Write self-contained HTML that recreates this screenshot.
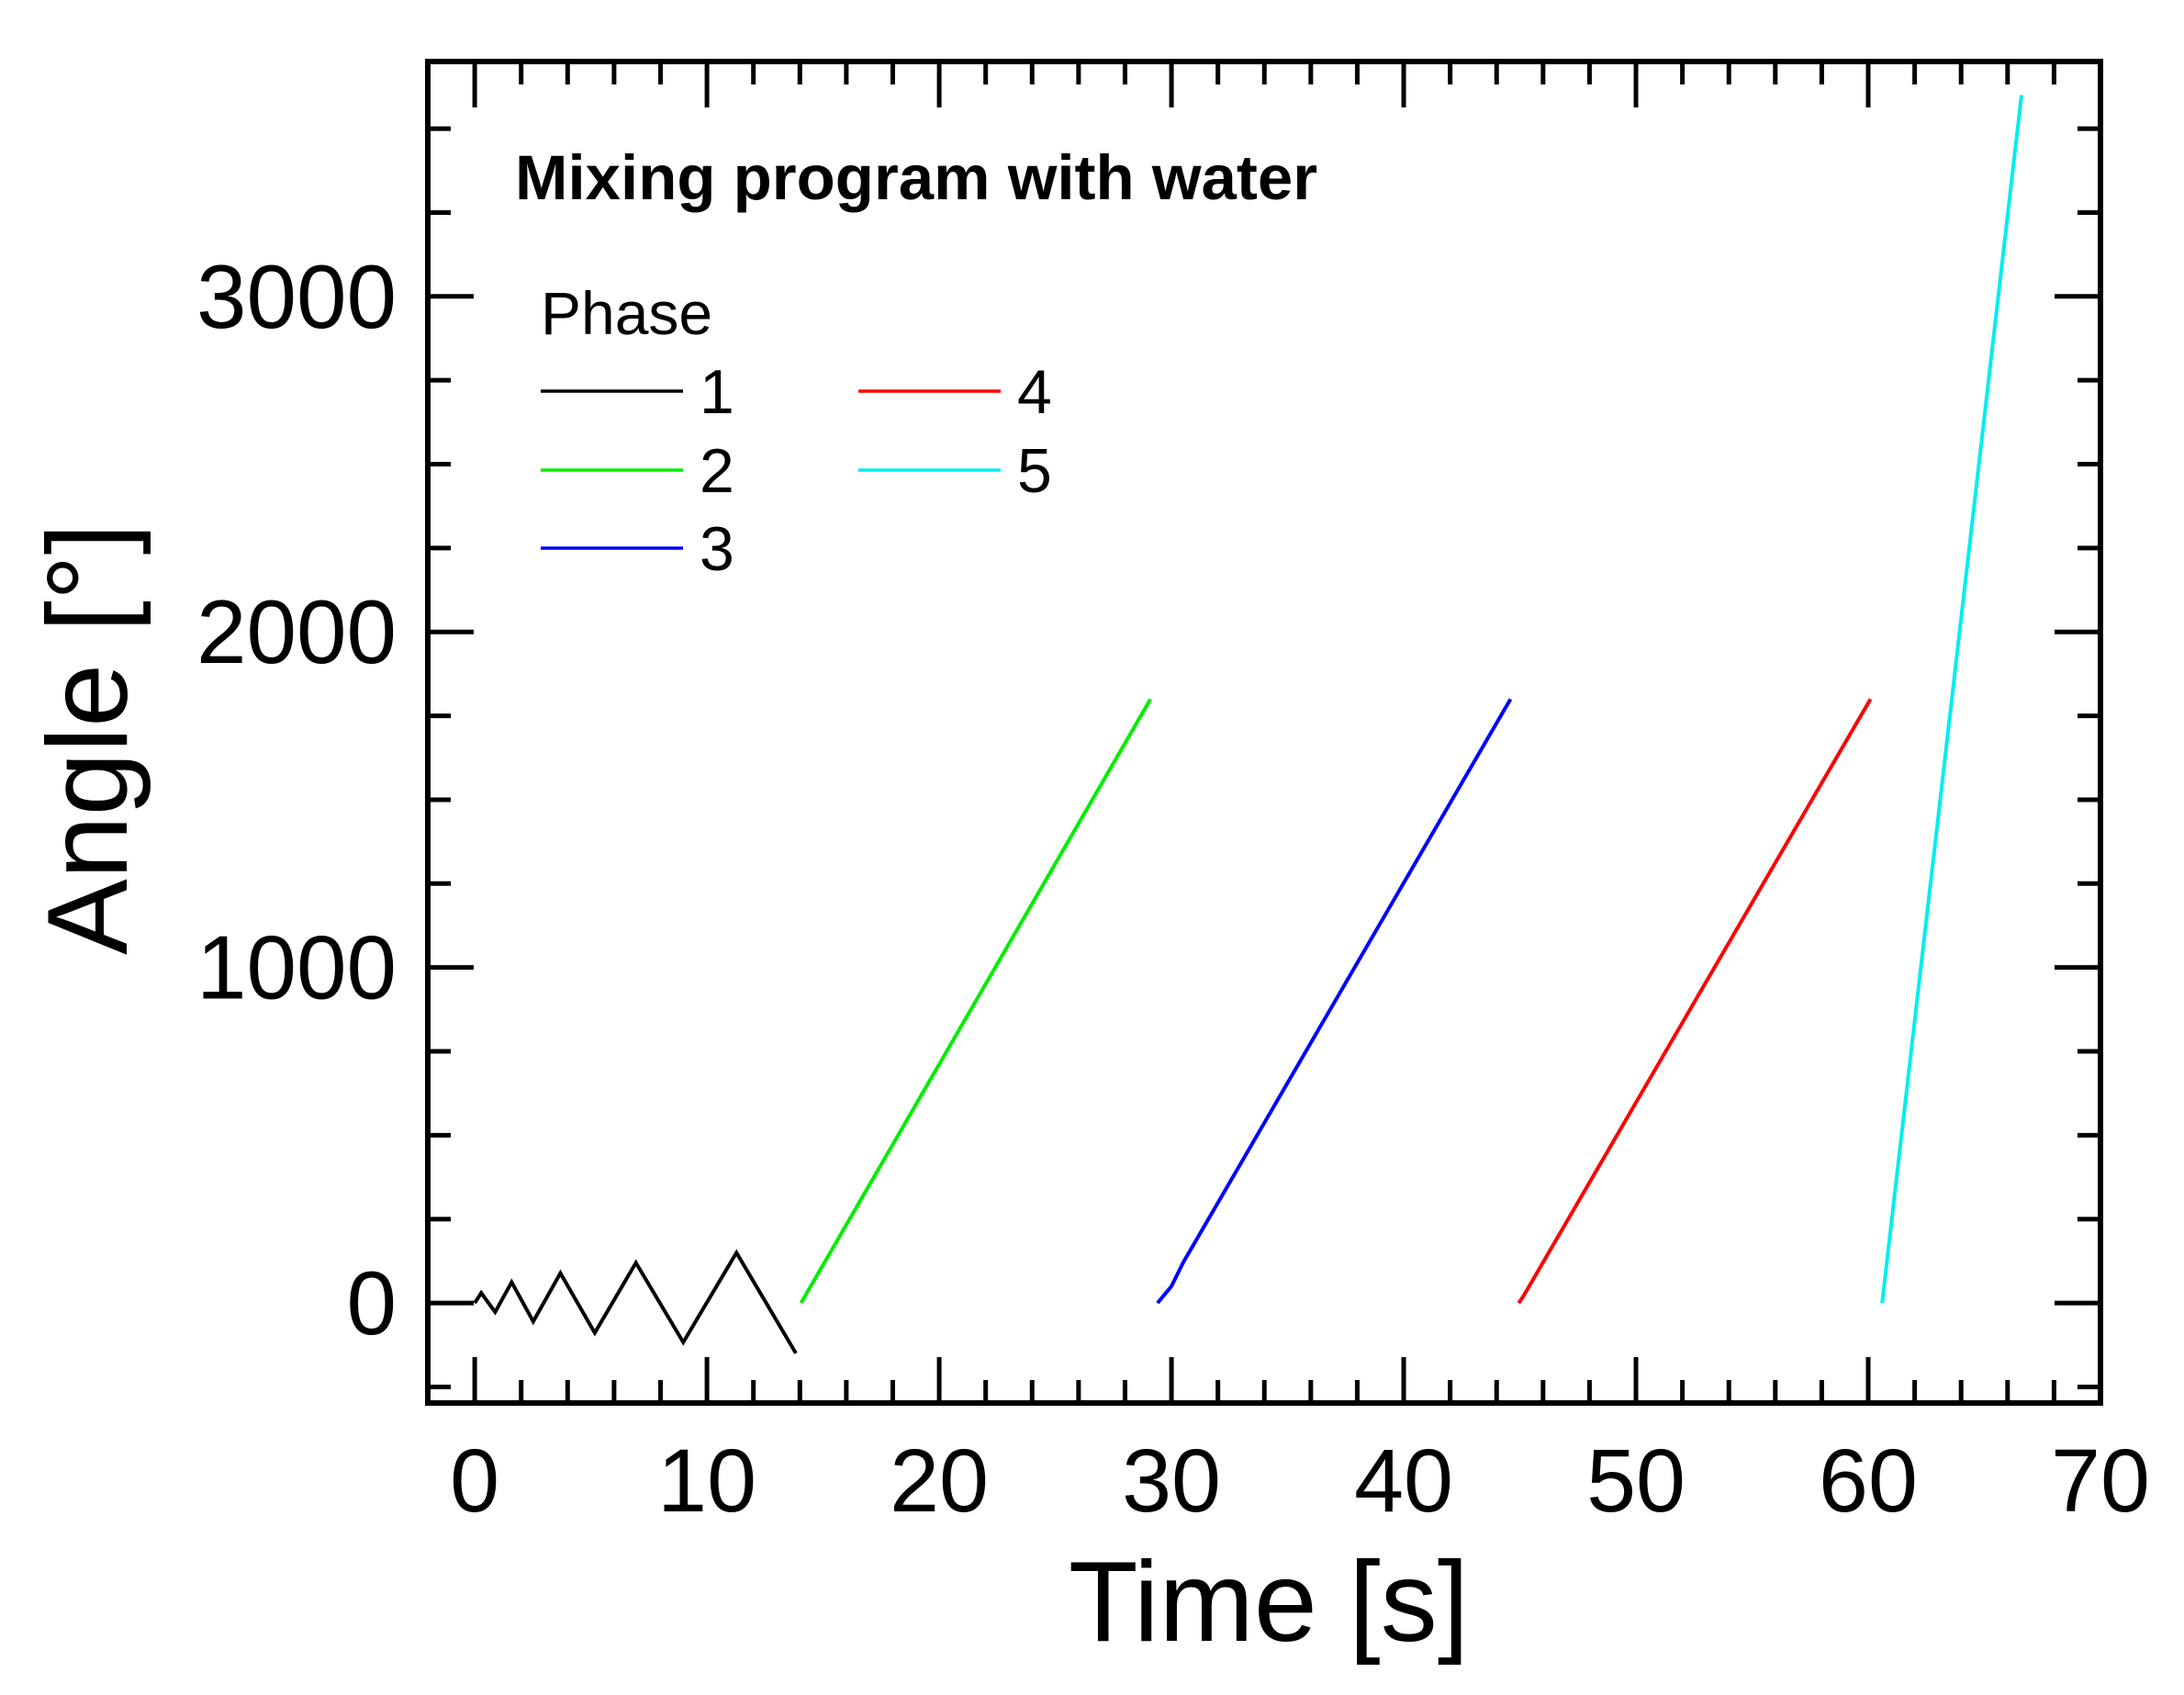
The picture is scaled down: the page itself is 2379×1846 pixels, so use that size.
<!DOCTYPE html>
<html><head><meta charset="utf-8"><style>
html,body{margin:0;padding:0;background:#fff;}
svg{display:block;font-family:"Liberation Sans",Arial,sans-serif;}
</style></head><body>
<svg id="chart" width="2379" height="1846" viewBox="0 0 2379 1846" xmlns="http://www.w3.org/2000/svg">
<g id="marks"></g>
<g id="axes"></g>
<text x="561" y="217" font-size="69" font-weight="bold">Mixing program with water</text>
<text x="589" y="364" font-size="66">Phase</text>
<text x="1382" y="1787" font-size="124" text-anchor="middle">Time [s]</text>
<text transform="translate(138,805) rotate(-90)" font-size="124" text-anchor="middle">Angle [°]</text>
<g id="legend"></g>
</svg>
<script>
const xTicks = [0,10,20,30,40,50,60,70];
const yTicks = [0,1000,2000,3000];
const phaseNames = ["1","2","3","4","5"];
const phaseColors = ["#000000","#00ee00","#0000ff","#ff0000","#00eeee"];
const phase1T = [0,0.28,0.88,1.59,2.52,3.69,5.17,6.94,8.98,11.27,13.83];
const phase1A = [0,30,-27,62,-55,89,-89,120,-117,150,-150];
const phase2T = [14.05,29.1];
const phase2A = [0,1800];
const phase3T = [29.4,30.0,30.25,30.5,44.6];
const phase3A = [0,50,85,120,1800];
const phase4T = [44.95,45.15,60.1];
const phase4A = [0,20,1800];
const phase5T = [60.6,66.6];
const phase5A = [0,3600];

const X0=466,X1=2288,Y0=1528,Y1=67;
const xMin=-2.02,xMax=70,yMin=-298,yMax=3700;
const sx=v=>X0+(v-xMin)/(xMax-xMin)*(X1-X0);
const sy=v=>Y0-(v-yMin)/(yMax-yMin)*(Y0-Y1);
const NS="http://www.w3.org/2000/svg";
function mk(tag,attrs,parent){const e=document.createElementNS(NS,tag);for(const k in attrs)e.setAttribute(k,attrs[k]);parent.appendChild(e);return e;}
const axes=document.getElementById('axes'),marks=document.getElementById('marks'),legend=document.getElementById('legend');

const frame=mk('rect',{x:X0,y:Y1,width:X1-X0,height:Y0-Y1,fill:'none',stroke:'#000','stroke-width':6},axes);



for(let v=0;v<=70;v+=2){
  const major=v%10===0,L=major?50:25,x=sx(v);
  const t1=mk('line',{x1:x,x2:x,y1:Y0,y2:Y0-L,stroke:'#000','stroke-width':5},axes);
  
  
  const t2=mk('line',{x1:x,x2:x,y1:Y1,y2:Y1+L,stroke:'#000','stroke-width':5},axes);
  
  
}
xTicks.forEach(v=>{
  const t=mk('text',{x:sx(v),y:1646,'font-size':97,'text-anchor':'middle'},axes);t.textContent=v;
  
  
});
for(let v=-250;v<=3500;v+=250){
  const major=v%1000===0,L=major?50:25,y=sy(v);
  const t1=mk('line',{x1:X0,x2:X0+L,y1:y,y2:y,stroke:'#000','stroke-width':5},axes);
  
  
  const t2=mk('line',{x1:X1,x2:X1-L,y1:y,y2:y,stroke:'#000','stroke-width':5},axes);
  
  
}
yTicks.forEach(v=>{
  const t=mk('text',{x:432,y:sy(v)+34,'font-size':98,'text-anchor':'end'},axes);t.textContent=v;
  
  
});

const series=[[phase1T,phase1A],[phase2T,phase2A],[phase3T,phase3A],[phase4T,phase4A],[phase5T,phase5A]];
series.forEach((s,i)=>{
  const pts=s[0].map((t,j)=>sx(t)+','+sy(s[1][j])).join(' ');
  const p=mk('polyline',{points:pts,fill:'none',stroke:phaseColors[i],'stroke-width':4,'stroke-linejoin':'miter'},marks);
  
  
});

const legPos=[[589,426],[589,512],[589,597],[935,426],[935,512]];
phaseNames.forEach((n,i)=>{
  const [x,y]=legPos[i];
  const g=mk('g',{},legend);
  
  
  mk('line',{x1:x,x2:x+155,y1:y,y2:y,stroke:phaseColors[i],'stroke-width':3.5},g);
  const t=mk('text',{x:x+173,y:y+24,'font-size':68},g);t.textContent=n;
});
</script>
</body></html>
